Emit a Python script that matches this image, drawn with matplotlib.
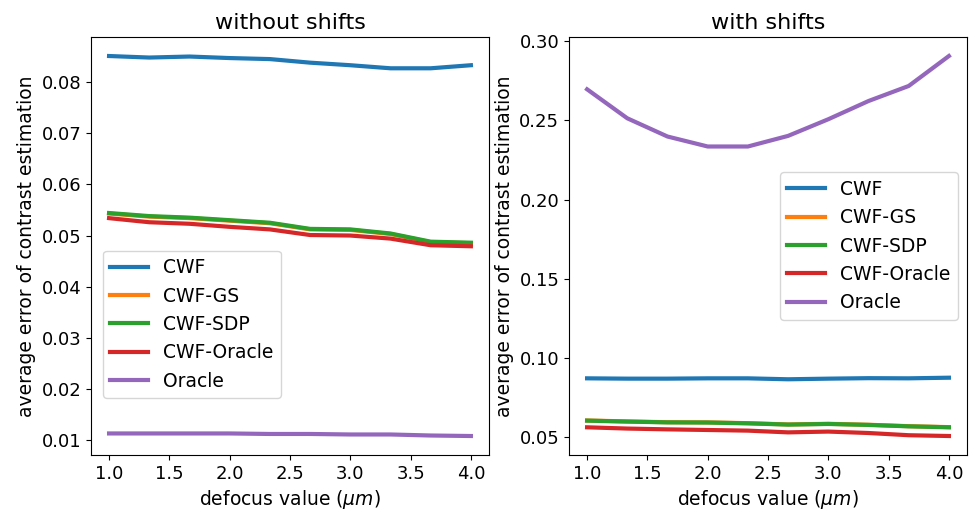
import numpy as np
import matplotlib
matplotlib.use("Agg")
import matplotlib.pyplot as plt

defocus = np.linspace(1.0, 4.0, 10)
labels = ["CWF", "CWF-GS", "CWF-SDP", "CWF-Oracle", "Oracle"]

# without shifts
ns_cwf = [0.0851, 0.0848, 0.0850, 0.0847, 0.0845, 0.0838, 0.0833, 0.0827, 0.0827, 0.0833]
ns_gs = [0.0543, 0.0537, 0.0534, 0.0529, 0.0524, 0.0512, 0.0511, 0.0503, 0.0487, 0.0485]
ns_sdp = [0.0544, 0.0538, 0.0535, 0.0530, 0.0525, 0.0513, 0.0512, 0.0504, 0.0488, 0.0486]
ns_orc_cwf = [0.0534, 0.0526, 0.0523, 0.0517, 0.0512, 0.0501, 0.0500, 0.0494, 0.0481, 0.0479]
ns_oracle = [0.0113, 0.0113, 0.0113, 0.0113, 0.0112, 0.0112, 0.0111, 0.0111, 0.0109, 0.0108]

# with shifts
ws_cwf = [0.0872, 0.0870, 0.0870, 0.0872, 0.0872, 0.0866, 0.0870, 0.0873, 0.0872, 0.0876]
ws_gs = [0.0606, 0.0600, 0.0595, 0.0594, 0.0589, 0.0581, 0.0585, 0.0579, 0.0570, 0.0564]
ws_sdp = [0.0605, 0.0599, 0.0594, 0.0593, 0.0588, 0.0580, 0.0584, 0.0578, 0.0569, 0.0563]
ws_orc_cwf = [0.0563, 0.0555, 0.0550, 0.0546, 0.0542, 0.0531, 0.0536, 0.0527, 0.0513, 0.0508]
ws_oracle = [0.2696, 0.2513, 0.2398, 0.2335, 0.2335, 0.2402, 0.2507, 0.2622, 0.2717, 0.2906]

plt.rcParams['font.size'] = 13
fig, axes = plt.subplots(1, 2, figsize=(9.75, 5.12), dpi=100)

for ax, series, title in [
    (axes[0], [ns_cwf, ns_gs, ns_sdp, ns_orc_cwf, ns_oracle], "without shifts"),
    (axes[1], [ws_cwf, ws_gs, ws_sdp, ws_orc_cwf, ws_oracle], "with shifts"),
]:
    for vals, lab in zip(series, labels):
        ax.plot(defocus, vals, lw=3, label=lab)
    ax.set_title(title, fontsize=16)
    ax.set_xlabel(r"defocus value ($\mu m$)", fontsize=13.5)
    ax.set_ylabel("average error of contrast estimation", fontsize=13.5)
    ax.set_xticks([1.0, 1.5, 2.0, 2.5, 3.0, 3.5, 4.0])
    ax.tick_params(labelsize=13)

axes[0].legend(loc=(0.03, 0.136), fontsize=13.5)
axes[1].legend(loc="center right", fontsize=13.5)
axes[1].set_yticks([0.05, 0.10, 0.15, 0.20, 0.25, 0.30])

fig.subplots_adjust(left=0.0933, right=0.9918, top=0.9277, bottom=0.1113, wspace=0.201)
fig.savefig("out.png")
